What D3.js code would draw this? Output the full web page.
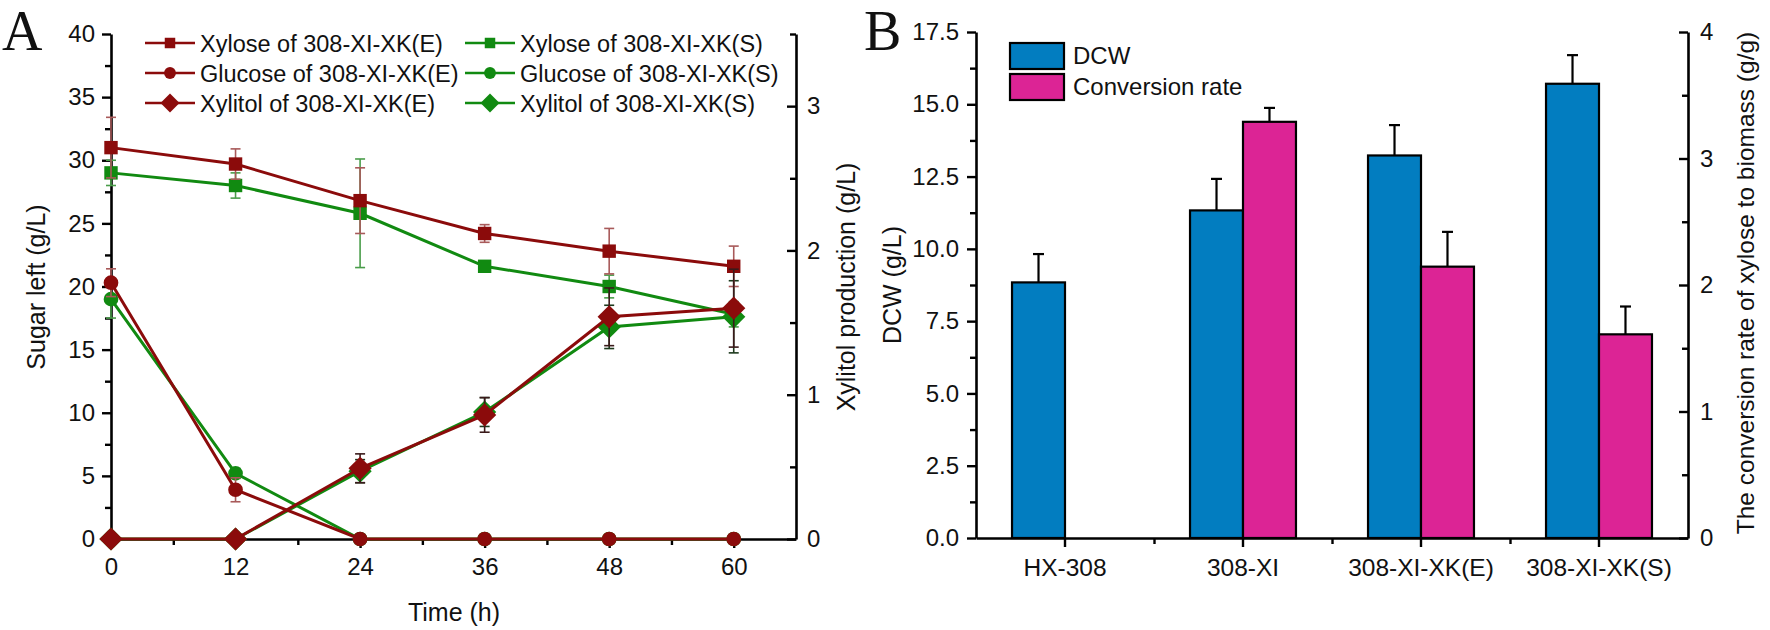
<!DOCTYPE html>
<html><head><meta charset="utf-8">
<script src="https://cdn.jsdelivr.net/npm/d3@7/dist/d3.min.js"></script>
<style>
body{margin:0;background:#fff;}
svg text{font-family:"Liberation Sans",Arial,sans-serif;fill:#111;}
</style></head>
<body><svg id="c" width="1770" height="630"></svg>
<script>
// ---------- Panel A data ----------
const time = [0, 12, 24, 36, 48, 60];
const xyloseE = [31.0, 29.7, 26.8, 24.2, 22.8, 21.6];
const xyloseEErr = [2.4, 1.2, 2.6, 0.7, 1.8, 1.6];
const xyloseS = [29.0, 28.0, 25.8, 21.6, 20.0, 17.8];
const xyloseSErr = [1.0, 1.0, 4.3, 0.3, 0.9, 1.0];
const glucoseE = [20.3, 3.9, 0, 0, 0, 0];
const glucoseEErr = [1.1, 0.95, 0, 0, 0, 0];
const glucoseS = [19.0, 5.2, 0, 0, 0, 0];
const glucoseSErr = [1.5, 0.4, 0, 0, 0, 0];
const xylitolE = [0, 0, 0.49, 0.86, 1.54, 1.60];
const xylitolEErr = [0, 0, 0.1, 0.12, 0.2, 0.27];
const xylitolS = [0, 0, 0.47, 0.88, 1.47, 1.54];
const xylitolSErr = [0, 0, 0.08, 0.1, 0.15, 0.25];
const legendA = ["Xylose of 308-XI-XK(E)", "Glucose of 308-XI-XK(E)", "Xylitol of 308-XI-XK(E)",
                 "Xylose of 308-XI-XK(S)", "Glucose of 308-XI-XK(S)", "Xylitol of 308-XI-XK(S)"];
const timeTicks = [0, 12, 24, 36, 48, 60];
const sugarTicks = [0, 5, 10, 15, 20, 25, 30, 35, 40];
const xylitolTicks = [0, 1, 2, 3];

// ---------- Panel B data ----------
const strains = ["HX-308", "308-XI", "308-XI-XK(E)", "308-XI-XK(S)"];
const dcw = [8.84, 11.33, 13.23, 15.71];
const dcwErr = [0.98, 1.09, 1.05, 0.99];
const convRate = [null, 3.29, 2.145, 1.61];
const convErr = [null, 0.11, 0.275, 0.22];
const dcwTicks = [0, 2.5, 5, 7.5, 10, 12.5, 15, 17.5];
const convTicks = [0, 1, 2, 3, 4];
const legendB = ["DCW", "Conversion rate"];

const RED = "#8b0b0b", GREEN = "#118a11";
const RED_ERR = "#a85a5a", GREEN_ERR = "#4a9d4a";
const BLUE = "#027dc0", PINK = "#dc2495";

const svg = d3.select("#c");

// ================= Panel A =================
const xA = d3.scaleLinear().domain([0, 66]).range([111, 796]);
const yL = d3.scaleLinear().domain([0, 40]).range([539, 34]);
const yR = d3.scaleLinear().domain([0, 3.5]).range([539, 34]);

function styleAxis(g, fs) {
  g.selectAll("path.domain").attr("stroke", "#000").attr("stroke-width", 2.6);
  g.selectAll(".tick line").attr("stroke", "#000").attr("stroke-width", 2.4);
  g.selectAll("text").style("font-size", fs + "px").attr("fill", "#111");
}
function minor(g, axisFn, scale, vals, size) {
  const a = axisFn(scale).tickValues(vals).tickSizeInner(size).tickSizeOuter(0).tickFormat("");
  g.call(a);
  g.select("path.domain").remove();
  g.selectAll(".tick line").attr("stroke", "#000").attr("stroke-width", 2.4);
}

// axes A
const gxA = svg.append("g").attr("transform", "translate(0,539)")
  .call(d3.axisBottom(xA).tickValues(timeTicks).tickSizeInner(9).tickSizeOuter(0).tickPadding(10).tickFormat(d3.format("d")));
styleAxis(gxA, 24);
minor(svg.append("g").attr("transform", "translate(0,539)"), d3.axisBottom, xA, [6, 18, 30, 42, 54], 6);

const gyL = svg.append("g").attr("transform", "translate(111,0)")
  .call(d3.axisLeft(yL).tickValues(sugarTicks).tickSizeInner(9).tickSizeOuter(0).tickPadding(7).tickFormat(d3.format("d")));
styleAxis(gyL, 24);
minor(svg.append("g").attr("transform", "translate(111,0)"), d3.axisLeft, yL, d3.range(2.5, 40, 5), 6);

const gyR = svg.append("g").attr("transform", "translate(796,0)")
  .call(d3.axisRight(yR).tickValues(xylitolTicks).tickSizeInner(-9).tickSizeOuter(0).tickPadding(11).tickFormat(d3.format("d")));
styleAxis(gyR, 24);
minor(svg.append("g").attr("transform", "translate(796,0)"), d3.axisRight, yR, [0.5, 1.5, 2.5, 3.5], -6);

// axis titles A
svg.append("text").attr("x", 454).attr("y", 621).attr("text-anchor", "middle").style("font-size", "25px").text("Time (h)");
svg.append("text").attr("transform", "translate(36,287) rotate(-90)").attr("text-anchor", "middle").attr("dy", "0.36em")
  .style("font-size", "25px").text("Sugar left (g/L)");
svg.append("text").attr("transform", "translate(846,287) rotate(-90)").attr("text-anchor", "middle").attr("dy", "0.36em")
  .style("font-size", "25px").text("Xylitol production (g/L)");

const plotA = svg.append("g");
function series(vals, errs, yS, color, errColor, shape, size) {
  const pts = time.map((t, i) => ({ t, v: vals[i], e: errs[i] }));
  const g = plotA.append("g");
  pts.filter(p => p.e > 0).forEach(p => {
    const x = xA(p.t), y1 = yS(p.v + p.e), y2 = yS(p.v - p.e);
    g.append("line").attr("x1", x).attr("x2", x).attr("y1", y1).attr("y2", y2).attr("stroke", errColor).attr("stroke-width", 1.6);
    [y1, y2].forEach(y => g.append("line").attr("x1", x - 5).attr("x2", x + 5).attr("y1", y).attr("y2", y).attr("stroke", errColor).attr("stroke-width", 1.6));
  });
  g.append("path").datum(pts)
    .attr("d", d3.line().x(p => xA(p.t)).y(p => yS(p.v)))
    .attr("fill", "none").attr("stroke", color).attr("stroke-width", 3);
  const sym = d3.symbol().type(shape).size(size);
  g.selectAll(".m").data(pts).join("path")
    .attr("transform", p => `translate(${xA(p.t)},${yS(p.v)})`)
    .attr("d", sym).attr("fill", color);
}
const diamond = { draw(ctx, size) { const r = Math.sqrt(size / 2); ctx.moveTo(0, -r); ctx.lineTo(r, 0); ctx.lineTo(0, r); ctx.lineTo(-r, 0); ctx.closePath(); } };

series(xyloseS, xyloseSErr, yL, GREEN, GREEN_ERR, d3.symbolSquare, 180);
series(glucoseS, glucoseSErr, yL, GREEN, GREEN_ERR, d3.symbolCircle, 170);
series(xylitolS, xylitolSErr, yR, GREEN, "#1d3a1d", diamond, 270);
series(xyloseE, xyloseEErr, yL, RED, RED_ERR, d3.symbolSquare, 180);
series(glucoseE, glucoseEErr, yL, RED, RED_ERR, d3.symbolCircle, 170);
series(xylitolE, xylitolEErr, yR, RED, "#3a1a1a", diamond, 270);

// legend A
const legShapes = [d3.symbolSquare, d3.symbolCircle, diamond];
legendA.forEach((lab, i) => {
  const col = Math.floor(i / 3), row = i % 3;
  const x0 = col === 0 ? 145 : 465, y0 = 43 + row * 30;
  const c = col === 0 ? RED : GREEN;
  svg.append("line").attr("x1", x0).attr("x2", x0 + 50).attr("y1", y0).attr("y2", y0).attr("stroke", c).attr("stroke-width", 2.6);
  svg.append("path").attr("transform", `translate(${x0 + 25},${y0})`)
    .attr("d", d3.symbol().type(legShapes[row]).size(row === 2 ? 180 : 110)()).attr("fill", c);
  svg.append("text").attr("x", x0 + 55).attr("y", y0 + 9).style("font-size", "23.5px").text(lab);
});

// panel letters
svg.append("text").attr("x", 2).attr("y", 50).style("font-family", "'Liberation Serif','Times New Roman',serif").style("font-size", "56px").text("A");
svg.append("text").attr("x", 864).attr("y", 50).style("font-family", "'Liberation Serif','Times New Roman',serif").style("font-size", "56px").text("B");

// ================= Panel B =================
const xB = d3.scaleBand().domain(strains).range([976, 1688]).padding(0);
const xSub = d3.scaleBand().domain(legendB).range([0, xB.bandwidth()]).paddingInner(0).paddingOuter(0.68);
const yBL = d3.scaleLinear().domain([0, 17.5]).range([538, 32]);
const yBR = d3.scaleLinear().domain([0, 4]).range([538, 32]);

const plotB = svg.append("g");
strains.forEach((s, i) => {
  const vals = [[dcw[i], dcwErr[i], yBL, BLUE, legendB[0]], [convRate[i], convErr[i], yBR, PINK, legendB[1]]];
  vals.forEach(([v, e, yS, col, key]) => {
    if (v == null) return;
    const x = xB(s) + xSub(key), w = xSub.bandwidth();
    const cx = x + w / 2, ye = yS(v + e);
    plotB.append("line").attr("x1", cx).attr("x2", cx).attr("y1", yS(v)).attr("y2", ye).attr("stroke", "#000").attr("stroke-width", 2.2);
    plotB.append("line").attr("x1", cx - 5.5).attr("x2", cx + 5.5).attr("y1", ye).attr("y2", ye).attr("stroke", "#000").attr("stroke-width", 2.2);
    plotB.append("rect").attr("x", x).attr("y", yS(v)).attr("width", w).attr("height", yS(0) - yS(v))
      .attr("fill", col).attr("stroke", "#000").attr("stroke-width", 2.2);
  });
});

const gxB = svg.append("g").attr("transform", "translate(0,538)")
  .call(d3.axisBottom(xB).tickSizeInner(9).tickSizeOuter(0).tickPadding(12));
styleAxis(gxB, 24.5);
minor(svg.append("g").attr("transform", "translate(0,538)"), d3.axisBottom,
  d3.scaleLinear().domain([0, 4]).range([976, 1688]), [1, 2, 3], 6);

const gyBL = svg.append("g").attr("transform", "translate(976,0)")
  .call(d3.axisLeft(yBL).tickValues(dcwTicks).tickSizeInner(9).tickSizeOuter(0).tickPadding(8).tickFormat(d3.format(".1f")));
styleAxis(gyBL, 24);
minor(svg.append("g").attr("transform", "translate(976,0)"), d3.axisLeft, yBL, d3.range(1.25, 17.5, 2.5), 6);

const gyBR = svg.append("g").attr("transform", "translate(1688,0)")
  .call(d3.axisRight(yBR).tickValues(convTicks).tickSizeInner(-9).tickSizeOuter(0).tickPadding(12).tickFormat(d3.format("d")));
styleAxis(gyBR, 24);
minor(svg.append("g").attr("transform", "translate(1688,0)"), d3.axisRight, yBR, [0.5, 1.5, 2.5, 3.5], -6);

svg.append("text").attr("transform", "translate(892,285) rotate(-90)").attr("text-anchor", "middle").attr("dy", "0.36em")
  .style("font-size", "25px").text("DCW (g/L)");
svg.append("text").attr("transform", "translate(1745,283) rotate(-90)").attr("text-anchor", "middle").attr("dy", "0.36em")
  .style("font-size", "24.5px").text("The conversion rate of xylose to biomass (g/g)");

// legend B
legendB.forEach((lab, i) => {
  const y0 = 43 + i * 31;
  svg.append("rect").attr("x", 1010).attr("y", y0).attr("width", 54).attr("height", 26)
    .attr("fill", i === 0 ? BLUE : PINK).attr("stroke", "#000").attr("stroke-width", 2.2);
  svg.append("text").attr("x", 1073).attr("y", y0 + 21).style("font-size", "24px").text(lab);
});
</script></body></html>
